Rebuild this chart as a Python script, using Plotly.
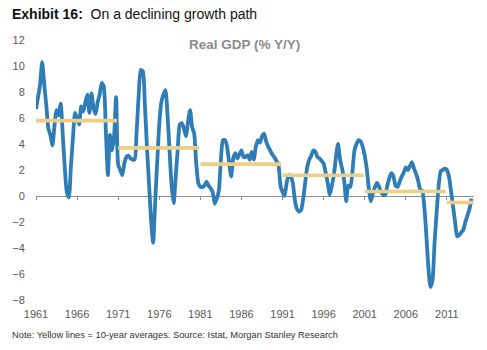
import plotly.graph_objects as go

# Quarterly real GDP growth (% Y/Y), 1961Q1 .. 2014Q1
start_year = 1961
gdp_yoy = [
    6.7, 7.6, 8.6, 10.3,   # 1961
    8.6, 7.0, 5.2, 4.7,    # 1962
    3.9, 5.4, 6.6, 6.2,    # 1963
    7.1, 4.8, 2.2, 0.3,    # 1964
    -0.1, 2.3, 4.5, 6.4,   # 1965
    6.0, 5.5, 6.9, 6.5,    # 1966
    7.2, 7.8, 6.4, 7.9,    # 1967
    6.8, 6.3, 7.2, 7.8,    # 1968
    8.7, 8.4, 5.0, 1.6,    # 1969
    4.7, 3.5, 4.6, 7.6,    # 1970
    2.4, 2.0, 1.6, 2.5,    # 1971
    3.0, 3.1, 2.9, 2.8,    # 1972
    2.8, 5.0, 7.8, 9.7,    # 1973
    9.6, 7.0, 3.8, 1.0,    # 1974
    -1.8, -3.6, -0.5, 2.6, # 1975
    5.5, 7.2, 7.8, 8.15,   # 1976
    6.3, 3.5, 0.8, -0.55,  # 1977
    1.5, 3.6, 5.5, 5.6,    # 1978
    5.2, 4.6, 5.7, 6.6,    # 1979
    5.3, 4.8, 2.5, 1.0,    # 1980
    0.7, 0.7, 0.8, 1.1,    # 1981
    0.8, 0.6, 0.3, -0.6,   # 1982
    -0.2, 0.4, 2.8, 4.3,   # 1983
    4.3, 3.8, 2.6, 1.5,    # 1984
    2.9, 3.3, 2.9, 3.2,    # 1985
    3.5, 3.0, 3.0, 3.15,   # 1986
    2.8, 3.4, 2.8, 3.8,    # 1987
    4.3, 4.1, 4.6, 4.8,    # 1988
    4.2, 3.8, 3.5, 3.2,    # 1989
    3.0, 2.7, 2.4, 0.8,    # 1990
    0.3, 0.0, 1.0, 1.6,    # 1991
    1.5, 1.0, -0.3, -1.0,  # 1992
    -1.2, -1.1, -0.3, 1.0, # 1993
    2.2, 2.8, 3.1, 3.5,    # 1994
    3.4, 3.0, 2.9, 2.7,    # 1995
    2.5, 1.8, 1.0, 0.1,    # 1996
    0.8, 1.6, 3.0, 4.0,    # 1997
    2.8, 2.1, 1.2, -0.4,   # 1998
    0.8, 0.7, 1.8, 3.5,    # 1999
    4.0, 4.3, 4.2, 3.8,    # 2000
    3.1, 2.1, 0.6, -0.4,   # 2001
    0.2, 0.7, 1.0, 0.7,    # 2002
    0.3, 0.1, 0.1, 0.8,    # 2003
    1.4, 1.75, 1.5, 0.8,   # 2004
    0.7, 1.1, 1.5, 1.8,    # 2005
    2.2, 2.0, 2.3, 2.6,    # 2006
    2.1, 1.7, 1.2, 0.5,    # 2007
    0.4, -0.8, -3.0, -5.5, # 2008
    -7.0, -6.5, -3.6, -1.3,# 2009
    0.8, 1.9, 2.0, 2.1,    # 2010
    2.0, 1.5, 0.4, -0.8,   # 2011
    -2.0, -3.1, -3.0, -2.8,# 2012
    -2.6, -2.0, -1.5, -1.0,# 2013
    -0.2,                  # 2014
]

# 10-year averages
decade_starts = [1961, 1971, 1981, 1991, 2001, 2011]
decade_ends = [1970.85, 1980.85, 1990.85, 2000.85, 2010.85, 2014.25]
decade_avgs = [5.8, 3.7, 2.45, 1.6, 0.35, -0.5]

tick_years = [1961, 1966, 1971, 1976, 1981, 1986, 1991, 1996, 2001, 2006, 2011]
y_ticks = list(range(-8, 13, 2))

t = [start_year + i / 4 for i in range(len(gdp_yoy))]

BLUE = "#2F7DB6"
GOLD = "#EDCF84"
GREY_TXT = "#595959"
FONT = "Liberation Sans, Arial, Helvetica, sans-serif"

fig = go.Figure()
fig.add_trace(go.Scatter(
    x=t, y=gdp_yoy, mode="lines",
    line=dict(color=BLUE, width=3.8, shape="spline", smoothing=0.6),
    xaxis="x", yaxis="y", hoverinfo="skip", showlegend=False,
))
for s, e, a in zip(decade_starts, decade_ends, decade_avgs):
    fig.add_trace(go.Scatter(
        x=[s, e], y=[a, a], mode="lines",
        line=dict(color=GOLD, width=3.6),
        xaxis="x2", yaxis="y", hoverinfo="skip", showlegend=False,
    ))

xr = [1961, 2014.3]
yr = [-8, 12]
zero_pos = (0 - yr[0]) / (yr[1] - yr[0])

fig.update_layout(
    width=487, height=350,
    margin=dict(l=33, r=13, t=40, b=50),
    paper_bgcolor="white", plot_bgcolor="white",
    font=dict(family=FONT, color=GREY_TXT, size=11),
    xaxis=dict(
        range=xr, tickvals=tick_years, ticktext=[str(y) for y in tick_years],
        showgrid=False, zeroline=False, showline=False,
        ticks="outside", ticklen=4, tickcolor="rgba(0,0,0,0)",
        tickfont=dict(size=11, color=GREY_TXT),
    ),
    xaxis2=dict(
        range=xr, overlaying="x", anchor="free", position=zero_pos,
        tickvals=tick_years, showticklabels=False,
        showgrid=False, zeroline=False, showline=True,
        linecolor="#8E8E8E", linewidth=1,
        ticks="outside", ticklen=3, tickcolor="#8E8E8E", tickwidth=1,
        layer="below traces",
    ),
    yaxis=dict(
        range=yr, tickvals=y_ticks,
        showgrid=False, zeroline=False, showline=False,
        ticks="outside", ticklen=8, tickcolor="rgba(0,0,0,0)",
        tickfont=dict(size=11, color=GREY_TXT),
    ),
    annotations=[
        dict(text="<b>Exhibit 16:</b>&nbsp; On a declining growth path",
             xref="paper", yref="paper", x=0, y=1, xanchor="left", yanchor="middle",
             xshift=-26, yshift=26, showarrow=False,
             font=dict(family=FONT, size=14, color="#111111")),
        dict(text="<b>Real GDP (% Y/Y)</b>",
             xref="paper", yref="paper", x=0.476, y=1, xanchor="center", yanchor="middle",
             yshift=-4, showarrow=False,
             font=dict(family=FONT, size=13.5, color="#8C8C8C")),
        dict(text="Note: Yellow lines = 10-year averages. Source: Istat, Morgan Stanley Research",
             xref="paper", yref="paper", x=0, y=0, xanchor="left", yanchor="middle",
             xshift=-26, yshift=-35, showarrow=False,
             font=dict(family=FONT, size=9.3, color="#333333")),
    ],
)

fig.write_html("out.html")
